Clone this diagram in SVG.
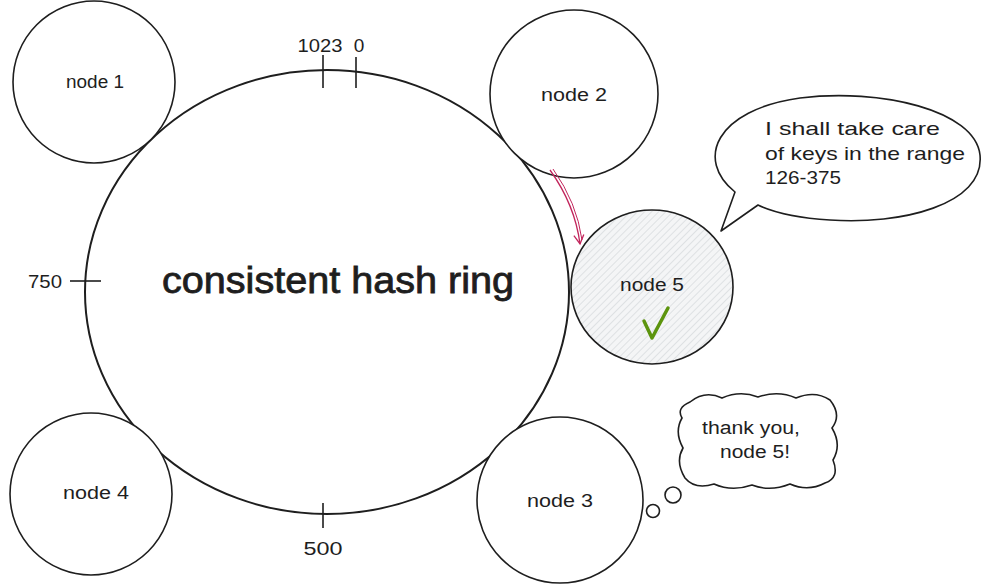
<svg xmlns="http://www.w3.org/2000/svg" width="990" height="588" viewBox="0 0 990 588">
<defs>
<style>
.n{fill:#fff;stroke:#1e1e1e;stroke-width:1.6}
.t{font-family:"Liberation Sans",Arial,sans-serif;fill:#1e1e1e;text-anchor:middle;dominant-baseline:central}
.lbl{font-size:18px}
.tk{stroke:#1e1e1e;stroke-width:1.6;fill:none}
</style>
<pattern id="hach" patternUnits="userSpaceOnUse" width="5" height="5" patternTransform="rotate(45)">
<rect width="5" height="5" fill="#f4f5f6"/>
<line x1="0" y1="0" x2="0" y2="5" stroke="#c9cdd1" stroke-width="1"/>
</pattern>
<marker id="ah" viewBox="0 0 12 12" refX="10" refY="6" markerWidth="12" markerHeight="12" markerUnits="userSpaceOnUse" orient="auto">
<path d="M1 1 L10 6 L1 11" fill="none" stroke="#c2255c" stroke-width="1.3"/>
</marker>
</defs>
<rect width="990" height="588" fill="#fff"/>

<g id="ring">
<ellipse cx="327" cy="292" rx="242" ry="222" fill="#fff" stroke="#1e1e1e" stroke-width="2"/>
<text class="t" x="338" y="280" font-size="36" stroke="#1e1e1e" stroke-width="0.8" textLength="352" lengthAdjust="spacingAndGlyphs">consistent hash ring</text>
</g>

<g id="ticks">
<line class="tk" x1="323" y1="55" x2="323" y2="88"/>
<line class="tk" x1="356" y1="57" x2="356" y2="88"/>
<text class="t" x="320" y="45" font-size="19" textLength="45" lengthAdjust="spacingAndGlyphs">1023</text>
<text class="t" x="359" y="45" font-size="19">0</text>
<line class="tk" x1="70" y1="281" x2="101" y2="281"/>
<text class="t" x="45" y="281" font-size="19" textLength="34" lengthAdjust="spacingAndGlyphs">750</text>
<line class="tk" x1="323" y1="503" x2="323" y2="528"/>
<text class="t" x="323" y="548" font-size="19" textLength="39" lengthAdjust="spacingAndGlyphs">500</text>
</g>

<g id="node1">
<circle class="n" cx="94" cy="82" r="81"/>
<text class="t lbl" x="95" y="82" textLength="58" lengthAdjust="spacingAndGlyphs">node 1</text>
</g>
<g id="node2">
<circle class="n" cx="574" cy="94" r="84"/>
<text class="t lbl" x="574" y="95" textLength="66" lengthAdjust="spacingAndGlyphs">node 2</text>
</g>
<g id="node4">
<circle class="n" cx="91" cy="494" r="81"/>
<text class="t lbl" x="96" y="493" textLength="66" lengthAdjust="spacingAndGlyphs">node 4</text>
</g>
<g id="node3">
<circle class="n" cx="560" cy="500" r="83"/>
<text class="t lbl" x="560" y="501" textLength="66" lengthAdjust="spacingAndGlyphs">node 3</text>
</g>
<g id="node5">
<ellipse cx="652" cy="287" rx="81" ry="77" fill="url(#hach)" stroke="#1e1e1e" stroke-width="1.6"/>
<text class="t lbl" x="652" y="285" textLength="64" lengthAdjust="spacingAndGlyphs">node 5</text>
<path d="M644 321 L652 338 L668 308" fill="none" stroke="#5c940d" stroke-width="3.5" stroke-linecap="round" stroke-linejoin="round"/>
</g>

<g id="connectors">
<path d="M550 170 Q575 205 580 244" fill="none" stroke="#c2255c" stroke-width="1.3" marker-end="url(#ah)"/>
<path d="M553 169 Q577 203 582 240" fill="none" stroke="#c2255c" stroke-width="1"/>
</g>

<g id="speech">
<path d="M735 192 C695 160 715 110 800 98 C880 88 975 110 980 155 C985 205 900 225 830 220 C800 218 775 213 758 205 L721 231 Z" fill="#fff" stroke="#1e1e1e" stroke-width="1.6" stroke-linejoin="round"/>
<text font-family="'Liberation Sans',Arial,sans-serif" font-size="19" fill="#1e1e1e" lengthAdjust="spacingAndGlyphs">
<tspan x="765" y="135" textLength="175" lengthAdjust="spacingAndGlyphs">I shall take care</tspan>
<tspan x="765" y="160" textLength="200" lengthAdjust="spacingAndGlyphs">of keys in the range</tspan>
<tspan x="765" y="184" textLength="76" lengthAdjust="spacingAndGlyphs">126-375</tspan>
</text>
</g>

<g id="thought">
<path d="M690 402 Q705 390 722 398 Q740 390 758 397 Q778 390 796 398 Q815 390 830 400 Q842 415 832 428 Q842 445 833 460 Q840 478 825 483 Q808 492 790 484 Q770 492 752 485 Q732 492 714 484 Q695 490 685 478 Q675 462 683 448 Q674 432 682 418 Q676 408 690 402 Z" fill="#fff" stroke="#1e1e1e" stroke-width="1.6"/>
<circle cx="673" cy="495" r="8" fill="#fff" stroke="#1e1e1e" stroke-width="1.6"/>
<circle cx="653" cy="511" r="6.5" fill="#fff" stroke="#1e1e1e" stroke-width="1.6"/>
<text class="t" x="751" y="428" font-size="18" textLength="98" lengthAdjust="spacingAndGlyphs">thank you,</text>
<text class="t" x="755" y="452" font-size="18" textLength="70" lengthAdjust="spacingAndGlyphs">node 5!</text>
</g>
</svg>
